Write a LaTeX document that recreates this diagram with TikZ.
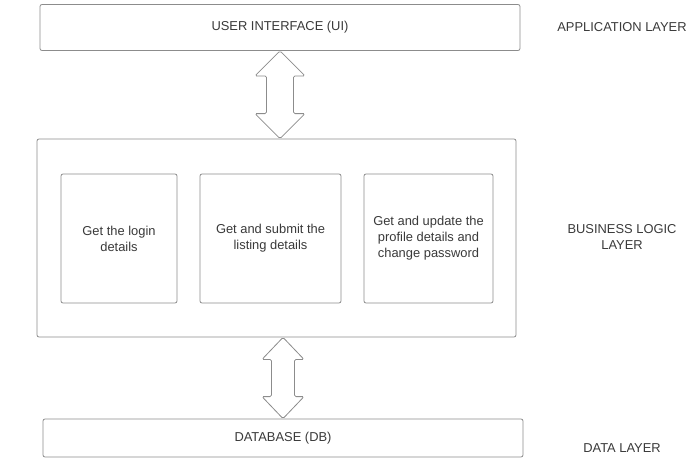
\documentclass[tikz,border=0pt]{standalone}
\usepackage{fontspec}
\setmainfont{Liberation Sans}
\usetikzlibrary{calc}
\definecolor{linegray}{HTML}{8C8C8C}
\definecolor{textgray}{HTML}{3A3A3A}
% double headed block arrow: top, bottom, head half width, shaft half width, head length
\newcommand{\updown}[5]{%
\draw[blockarrow] (#1) -- ++(#3,-#5) -- ++(-#3+#4,0) -- ($(#2)+(#4,#5)$)
  -- ++(#3-#4,0) -- (#2) -- ++(-#3,#5) -- ++(#3-#4,0)
  -- ($(#1)+(-#4,-#5)$) -- ++(-#3+#4,0) -- cycle;}
\begin{document}
\begin{tikzpicture}
[x=1pt, y=1pt, font=\fontsize{12.9}{16}\selectfont, text=textgray]
\tikzstyle{layerbox}=[draw=linegray, line width=0.8pt, rounded corners=2pt, fill=white, align=center]
\tikzstyle{taskbox}=[layerbox, minimum width=0, minimum height=129]
\tikzstyle{layername}=[align=center]
\tikzstyle{blockarrow}=[draw=linegray, line width=0.8pt, fill=white, rounded corners=1.5pt]
\useasboundingbox (0,0) rectangle (693,-471);

\node[layerbox, minimum width=480, minimum height=46]	(ui)	at (280,-27.5)	{USER INTERFACE (UI)};
\node[layerbox, minimum width=479, minimum height=198]	(bll)	at (276.5,-238)	{};
\node[layerbox, minimum width=480, minimum height=38]	(db)	at (283,-438)	{DATABASE (DB)};

\node[taskbox, minimum width=116]	(login)		at (119,-238.5)		{Get the login\\details};
\node[taskbox, minimum width=141]	(listing)	at (270.5,-238.5)	{Get and submit the\\listing details};
\node[taskbox, minimum width=129]	(profile)	at (428.5,-238.5)	{Get and update the\\profile details and\\change password};

\node[layername]	(app)	at (622,-27)	{APPLICATION LAYER};
\node[layername]	(logic)	at (622,-237)	{BUSINESS LOGIC\\LAYER};
\node[layername]	(data)	at (622,-448)	{DATA LAYER};

\coordinate (upT) at (ui.south);
\coordinate (upB) at (ui.south |- bll.north);
\coordinate (dnT) at (db.north |- bll.south);
\coordinate (dnB) at (db.north);

\updown{upT}{upB}{25}{13.5}{25}
\updown{dnT}{dnB}{21}{11.5}{22}

\end{tikzpicture}
\end{document}
